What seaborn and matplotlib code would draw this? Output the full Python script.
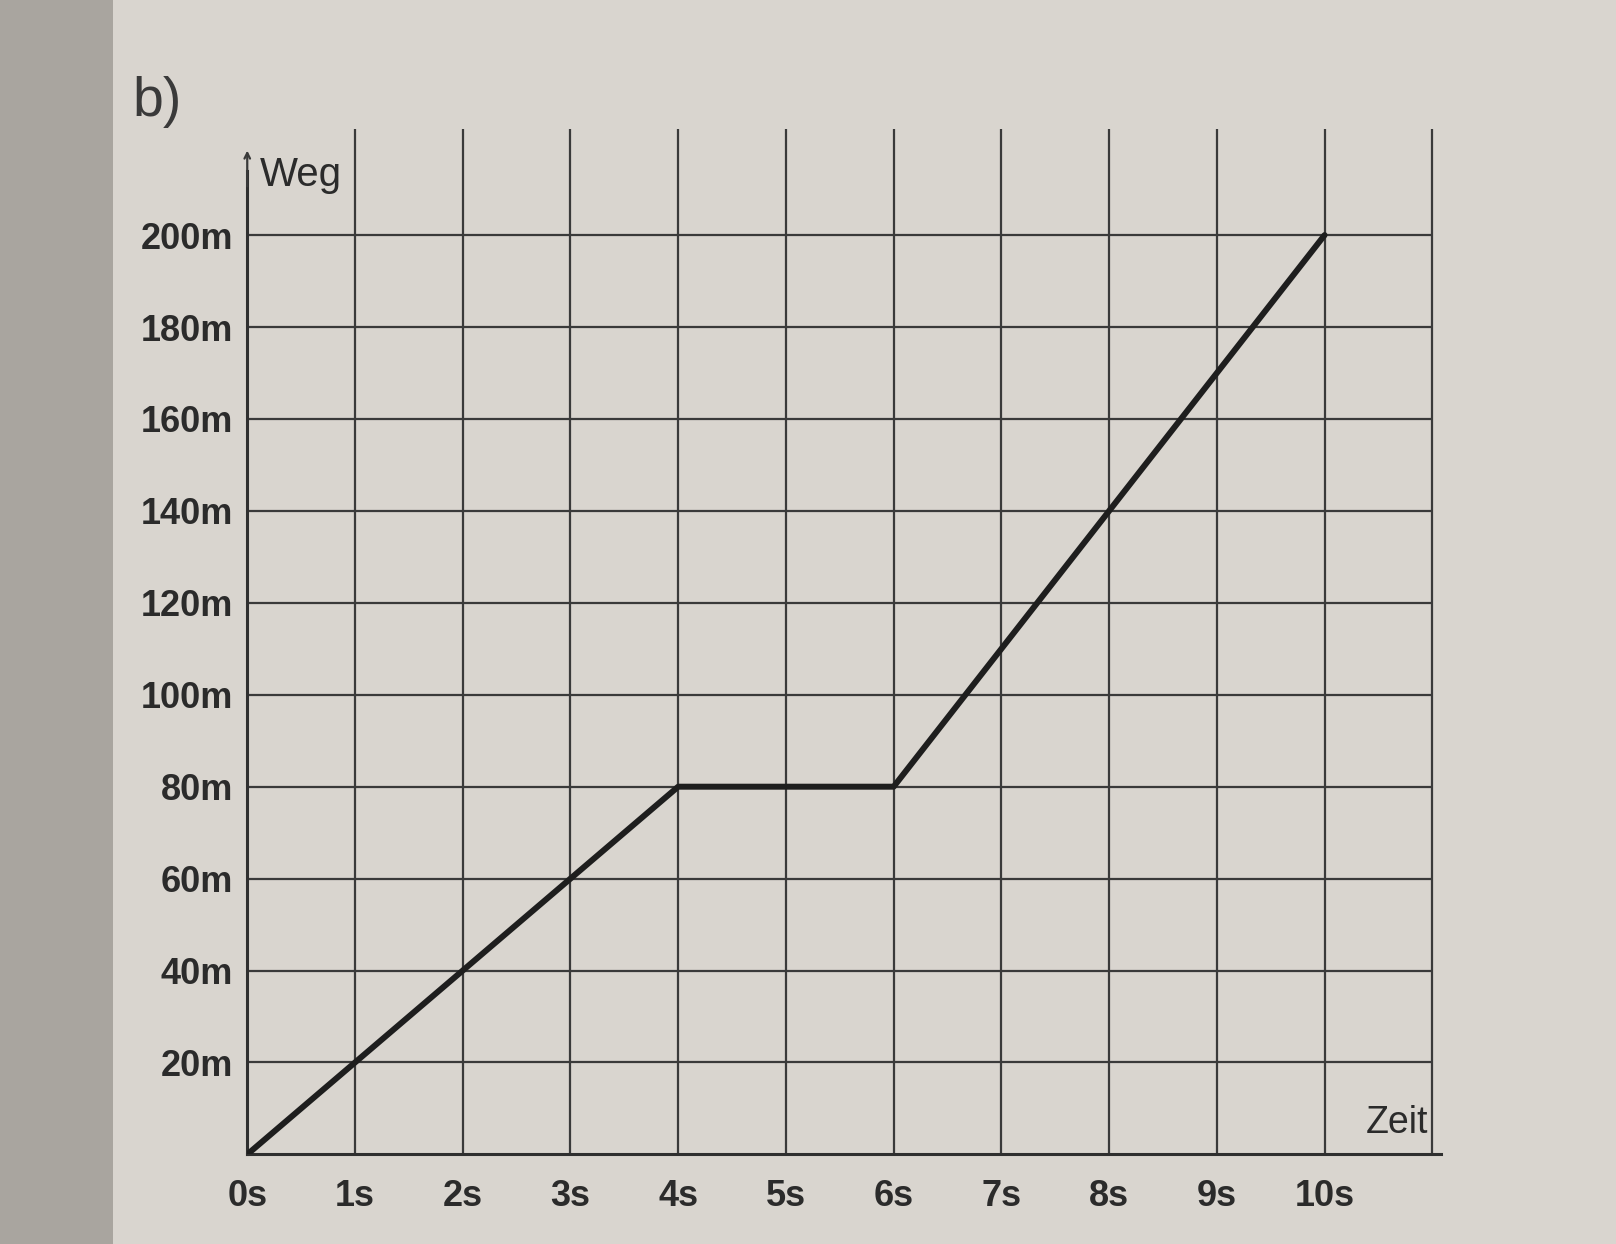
import matplotlib
matplotlib.use("Agg")
import matplotlib.pyplot as plt
import seaborn as sns
from matplotlib.patches import Rectangle

# Weg-Zeit-Diagramm, values
zeit = [0, 1, 2, 3, 4, 5, 6, 7, 8, 9, 10]
weg = [0, 20, 40, 60, 80, 80, 80, 110, 140, 170, 200]
x_ticks = [0, 1, 2, 3, 4, 5, 6, 7, 8, 9, 10]
x_labels = ["0s", "1s", "2s", "3s", "4s", "5s", "6s", "7s", "8s", "9s", "10s"]
y_ticks = [20, 40, 60, 80, 100, 120, 140, 160, 180, 200]
y_labels = ["20m", "40m", "60m", "80m", "100m", "120m", "140m", "160m", "180m", "200m"]

sns.set_style("white")
plt.rcParams["font.family"] = ["Liberation Sans", "DejaVu Sans"]

paper = "#d9d5cf"
ink = "#2b2b2b"

fig = plt.figure(figsize=(16.16, 12.44), dpi=100, facecolor=paper)
# darker shadow strip on the left of the photo
fig.patches.append(Rectangle((0, 0), 0.07, 1, transform=fig.transFigure,
                             facecolor="#a9a59f", edgecolor="none", zorder=0))

ax = fig.add_axes([0.153, 0.072, 0.75, 0.824])
ax.set_facecolor(paper)

# grid
for xv in x_ticks[1:] + [11]:
    ax.axvline(xv, color="#3a3a3a", lw=1.6, zorder=1)
ax.hlines(y_ticks, 0, 11, color="#3a3a3a", lw=1.6, zorder=1)

sns.lineplot(x=zeit, y=weg, ax=ax, color="#1e1e1e", lw=4.3, zorder=3)

ax.set_xlim(0, 11.25)
ax.set_ylim(0, 223)
ax.set_xticks(x_ticks)
ax.set_xticklabels(x_labels)
ax.set_yticks(y_ticks)
ax.set_yticklabels(y_labels)
ax.tick_params(axis="both", length=8, width=1.6, color="#3a3a3a",
               labelsize=26, labelcolor=ink, direction="out")
for lab in ax.get_xticklabels() + ax.get_yticklabels():
    lab.set_fontweight("bold")
ax.tick_params(axis="x", pad=10)
ax.tick_params(axis="y", pad=2)

for side in ["top", "right"]:
    ax.spines[side].set_visible(False)
for side in ["left", "bottom"]:
    ax.spines[side].set_color("#2f2f2f")
    ax.spines[side].set_linewidth(2.2)
ax.spines["left"].set_bounds(0, 214)
ax.spines["bottom"].set_bounds(0, 11.08)
ax.set_xlabel("")
ax.set_ylabel("")

ax.annotate("", xy=(0, 219), xytext=(0, 210),
            arrowprops=dict(arrowstyle="->", color="#3a3a3a", lw=1.6),
            annotation_clip=False)
ax.text(0.12, 213, "Weg", fontsize=29, color=ink, va="center", ha="left")
ax.text(10.96, 3, "Zeit", fontsize=27, color=ink, va="bottom", ha="right")

fig.text(0.082, 0.918, "b)", fontsize=40, color="#3a3a3a", va="center", ha="left")

fig.savefig("out.png", dpi=100, facecolor=paper)
